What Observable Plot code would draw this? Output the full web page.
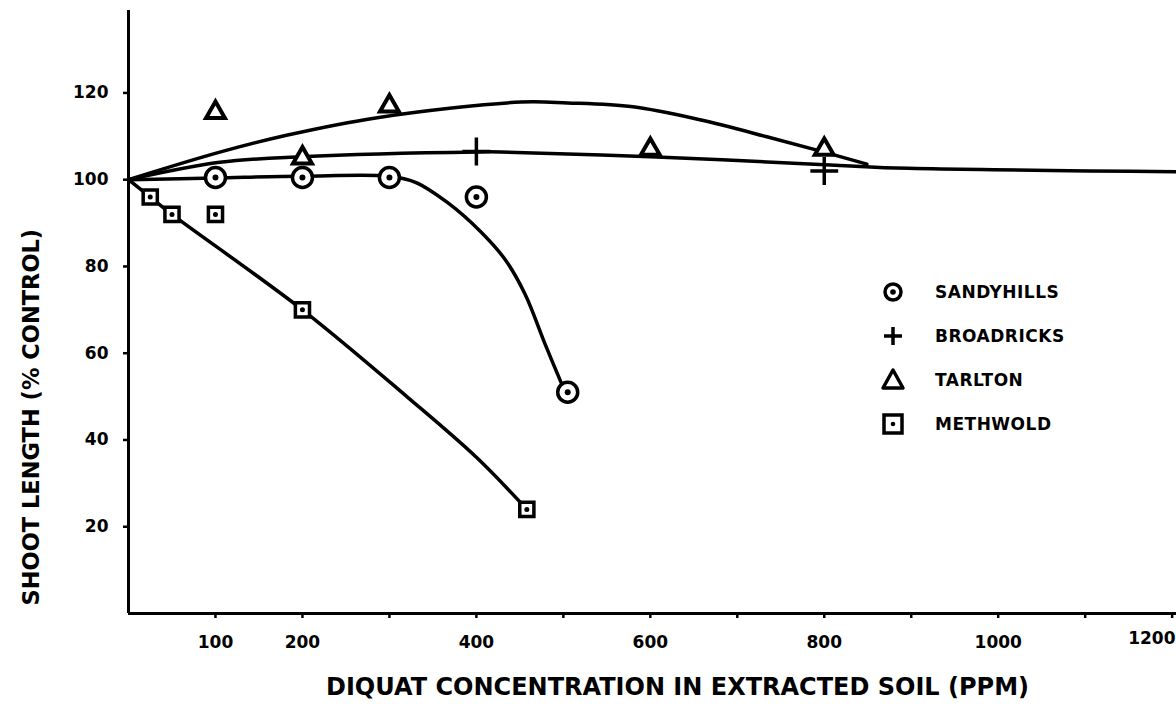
<!DOCTYPE html>
<html>
<head>
<meta charset="utf-8">
<script src="https://cdn.jsdelivr.net/npm/d3@7"></script>
<script src="https://cdn.jsdelivr.net/npm/@observablehq/plot@0.6"></script>
<style>
  body { margin: 0; background: #fff; }
  #wrap { position: relative; width: 1176px; height: 706px; overflow: hidden; background: #fff; }
  #legend { position: absolute; left: 878px; top: 270px; font-family: "DejaVu Sans", sans-serif; font-weight: bold; font-size: 17px; letter-spacing: 0.5px; color: #000; }
  .row { display: flex; align-items: center; height: 44px; }
  .row svg { width: 30px; height: 30px; margin-right: 27px; flex: none; }
</style>
</head>
<body>
<div id="wrap"><div id="legend"></div></div>
<script>
// ---- data ----
const xTicks = [100, 200, 300, 400, 500, 600, 700, 800, 900, 1000, 1100, 1200];
const xTickLabels = [100, 200, 400, 600, 800, 1000];
const yTicks = [20, 40, 60, 80, 100, 120];

const seriesNames = ["SANDYHILLS", "BROADRICKS", "TARLTON", "METHWOLD"];

// measured points
const sandyX = [100, 200, 300, 400, 505];
const sandyY = [100.5, 100.5, 100.5, 96, 51];
const broadX = [400, 800];
const broadY = [106.5, 102];
const tarltonX = [100, 200, 300, 600, 800];
const tarltonY = [115.5, 105, 117, 107, 107];
const methX = [25, 50, 100, 200, 458];
const methY = [96, 92, 92, 70, 24];

// hand-drawn fitted curves (traced)
const sandyCurveX = [0, 100, 200, 300, 330, 367, 405, 433, 456, 479, 500];
const sandyCurveY = [100, 100.4, 100.8, 100.8, 99.4, 94.7, 88, 81.6, 73.6, 62.1, 52];
const broadCurveX = [0, 105, 198, 401, 428, 600, 807, 864, 1205];
const broadCurveY = [100, 104, 105.3, 106.4, 106.4, 105.3, 103.4, 102.8, 101.8];
const tarltonCurveX = [0, 106, 183, 286, 451, 505, 580, 657, 734, 799, 849];
const tarltonCurveY = [100, 106.4, 110.3, 114.3, 117.9, 117.7, 116.8, 113.8, 109.9, 106.4, 103.6];
const methCurveX = [0, 25, 50, 200, 320, 400, 458];
const methCurveY = [100, 96, 92, 70, 50, 36, 24];

const xTitle = "DIQUAT CONCENTRATION IN EXTRACTED SOIL (PPM)";
const yTitle = "SHOOT LENGTH (% CONTROL)";
const cutTickLabel = "1200";

// ---- build tables ----
const zip = (xs, ys) => xs.map((x, i) => ({x, y: ys[i]}));
const sandy = zip(sandyX, sandyY), broad = zip(broadX, broadY);
const tarlton = zip(tarltonX, tarltonY), meth = zip(methX, methY);
const sandyC = zip(sandyCurveX, sandyCurveY), broadC = zip(broadCurveX, broadCurveY);
const tarltonC = zip(tarltonCurveX, tarltonCurveY), methC = zip(methCurveX, methCurveY);

const lw = 3.5;
const font = "DejaVu Sans";

const chart = Plot.plot({
  width: 1176,
  height: 706,
  marginLeft: 128,
  marginRight: 0,
  marginTop: 10,
  marginBottom: 93,
  x: {domain: [0, 1205]},
  y: {domain: [0, 139]},
  style: {fontFamily: font, fontWeight: "bold", fontSize: "17px", color: "#000", background: "#fff", overflow: "hidden"},
  marks: [
    Plot.axisX({ticks: xTicks, tickSize: 5, tickPadding: 17, strokeWidth: 2.5, fontSize: 17,
      tickFormat: d => xTickLabels.includes(d) ? String(d) : "", label: null}),
    Plot.axisY({ticks: yTicks, tickSize: 5, tickPadding: 15, strokeWidth: 2.5, fontSize: 17, label: null}),
    Plot.text([cutTickLabel], {frameAnchor: "bottom-right", textAnchor: "end", dx: -1, dy: 30, fontSize: 17, fontWeight: "bold"}),
    Plot.ruleX([0], {strokeWidth: 3}),
    Plot.ruleY([0], {strokeWidth: 3}),
    Plot.line(sandyC, {x: "x", y: "y", curve: "catmull-rom", stroke: "black", strokeWidth: lw}),
    Plot.line(broadC, {x: "x", y: "y", curve: "catmull-rom", stroke: "black", strokeWidth: lw}),
    Plot.line(tarltonC, {x: "x", y: "y", curve: "catmull-rom", stroke: "black", strokeWidth: lw}),
    Plot.line(methC, {x: "x", y: "y", curve: "catmull-rom", stroke: "black", strokeWidth: lw}),
    // markers
    Plot.dot(sandy, {x: "x", y: "y", r: 10, stroke: "black", strokeWidth: 3.5, fill: "white"}),
    Plot.dot(sandy, {x: "x", y: "y", r: 3, fill: "black"}),
    Plot.dot(broad, {x: "x", y: "y", symbol: "plus", r: 9, stroke: "black", strokeWidth: 3.5}),
    Plot.dot(tarlton, {x: "x", y: "y", symbol: "triangle2", r: 9, stroke: "black", strokeWidth: 4, fill: "white"}),
    Plot.dot(meth, {x: "x", y: "y", symbol: "square2", r: 9, stroke: "black", strokeWidth: 3.5, fill: "white"}),
    Plot.dot(meth, {x: "x", y: "y", r: 2.5, fill: "black"}),
    // axis titles
    Plot.text([xTitle], {frameAnchor: "bottom", dx: 25, dy: 74, fontSize: 24, fontWeight: "bold", lineAnchor: "middle"}),
    Plot.text([yTitle], {frameAnchor: "bottom-left", rotate: -90, textAnchor: "start", dx: -97, dy: -8, fontSize: 22.5, fontWeight: "bold", lineAnchor: "middle"})
  ]
});
document.getElementById("wrap").prepend(chart);

// legend
const symbolSvg = {
  SANDYHILLS: '<circle cx="15" cy="15" r="8" fill="white" stroke="black" stroke-width="3.5"/><circle cx="15" cy="15" r="2.8" fill="black"/>',
  BROADRICKS: '<path d="M6 15H24M15 6V24" stroke="black" stroke-width="3.5"/>',
  TARLTON: '<path d="M15 5L25 23H5Z" fill="white" stroke="black" stroke-width="3.5" stroke-linejoin="round"/>',
  METHWOLD: '<rect x="6" y="6" width="18" height="18" fill="white" stroke="black" stroke-width="3.5"/><circle cx="15" cy="15" r="2.3" fill="black"/>'
};
const legend = document.getElementById("legend");
seriesNames.forEach(n => {
  const row = document.createElement("div");
  row.className = "row";
  row.innerHTML = `<svg viewBox="0 0 30 30">${symbolSvg[n]}</svg><span>${n}</span>`;
  legend.appendChild(row);
});
</script>
</body>
</html>
